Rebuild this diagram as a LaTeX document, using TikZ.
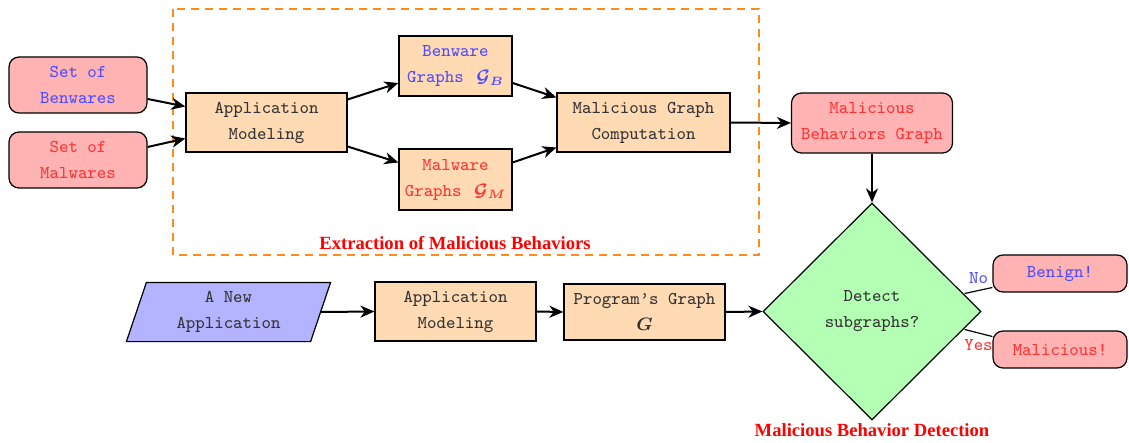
\documentclass[tikz,border=0pt]{standalone}
\usepackage{fontspec}
\usepackage{bm}
\newfontfamily\titlefont{Liberation Serif}
\usetikzlibrary{shapes.geometric,arrows.meta,backgrounds}
\definecolor{pinkfill}{HTML}{FFB3B3}
\definecolor{orfill}{HTML}{FFDAB3}
\definecolor{grfill}{HTML}{B3FFB3}
\definecolor{blfill}{HTML}{B3B3FF}
\definecolor{redtxt}{HTML}{FF3333}
\definecolor{bluetxt}{HTML}{4D4DFF}
\definecolor{dashor}{HTML}{FF8C1A}
\definecolor{txtgray}{HTML}{333333}
\begin{document}
\begin{tikzpicture}[x=0.5pt,y=-0.5pt,
  base/.style={draw=black, line width=0.6pt, align=center, inner sep=1pt,
    font=\ttfamily\fontsize{9}{13}\selectfont, text=txtgray},
  pinkbox/.style={base, fill=pinkfill, rounded corners=5pt},
  procbox/.style={base, fill=orfill},
  conn/.style={line width=1pt, -{Stealth[length=7pt,width=6pt,inset=2.2pt]}},
  plainline/.style={line width=0.6pt},
  title/.style={font=\titlefont\bfseries\fontsize{9.3}{11}\selectfont, text=red},
  answer/.style={font=\ttfamily\fontsize{9}{10}\selectfont, inner sep=1pt}]
\useasboundingbox (0,0) rectangle (1129,443);

% dashed frame
\draw[dashor, line width=1pt, dash pattern=on 4pt off 3pt] (173,9) rectangle (759,255);
\node[title] (extr) at (455,243) {Extraction of Malicious Behaviors};

% top row
\node[pinkbox, text=bluetxt, minimum width=69pt, minimum height=28pt] (benw) at (78,85) {Set of\\Benwares};
\node[pinkbox, text=redtxt, minimum width=69pt, minimum height=28pt] (malw) at (78,160) {Set of\\Malwares};
\node[procbox, minimum width=80.5pt, minimum height=29.5pt] (app1) at (266.5,122.5) {Application\\Modeling};
\node[procbox, text=bluetxt, minimum width=56.5pt, minimum height=30pt] (bgr) at (455.5,66) {Benware\\Graphs \,$\bm{\mathcal{G}_B}$};
\node[procbox, text=redtxt, minimum width=56.5pt, minimum height=30.5pt] (mgr) at (455.5,179.5) {Malware\\Graphs \,$\bm{\mathcal{G}_M}$};
\node[procbox, minimum width=86.5pt, minimum height=29.5pt] (mgc) at (643.5,122.5) {Malicious Graph\\Computation};
\node[pinkbox, text=redtxt, minimum width=80.5pt, minimum height=30pt] (mbg) at (872,123) {Malicious\\Behaviors Graph};

% decision
\node[base, diamond, fill=grfill, minimum width=109pt, minimum height=108.5pt, inner sep=0pt] (dec) at (872,311.5) {Detect\\subgraphs?};
\node[title] (detlab) at (872,430) {Malicious Behavior Detection};
\node[pinkbox, text=bluetxt, minimum width=67pt, minimum height=18.5pt] (benign) at (1060,273.5) {Benign!};
\node[pinkbox, text=redtxt, minimum width=67pt, minimum height=18.5pt] (malic) at (1060,349.5) {Malicious!};

% bottom row
\node[base, draw=none, minimum width=91.5pt, minimum height=29pt] (nap) at (228.5,312) {A New\\Application};
\begin{scope}[on background layer]
\draw[fill=blfill, line width=0.6pt] ([xshift=-5pt]nap.south west) -- ([xshift=-5pt]nap.south east)
  -- ([xshift=5pt]nap.north east) -- ([xshift=5pt]nap.north west) -- cycle;
\end{scope}
\node[procbox, minimum width=80.5pt, minimum height=29.5pt] (app2) at (455.5,311.5) {Application\\Modeling};
\node[procbox, minimum width=80.5pt, minimum height=28pt] (prog) at (644.5,312) {Program’s Graph\\$\bm{G}$};

% connectors
\draw[conn] ([yshift=-7pt]benw.east) -- ([yshift=8pt]app1.west);
\draw[conn] ([yshift=6.5pt]malw.east) -- ([yshift=-8pt]app1.west);
\draw[conn] ([yshift=11.5pt]app1.east) -- ([yshift=-8.5pt]bgr.west);
\draw[conn] ([yshift=-12pt]app1.east) -- ([yshift=8.5pt]mgr.west);
\draw[conn] ([yshift=-8.5pt]bgr.east) -- ([yshift=12.5pt]mgc.west);
\draw[conn] ([yshift=8.5pt]mgr.east) -- ([yshift=-12.5pt]mgc.west);
\draw[conn] (mgc.east) -- (mbg.west);
\draw[conn] (mbg.south) -- (dec.north);
\draw[conn] (nap.east) -- (app2.west);
\draw[conn] (app2.east) -- (prog.west);
\draw[conn] (prog.east) -- (dec.west);
\draw[plainline] ([shift={(-8.5pt,9pt)}]dec.east) -- node[answer, text=bluetxt, pos=0.5, above=2pt] (no) {No} ([yshift=-7pt]benign.west);
\draw[plainline] ([shift={(-8.5pt,-9pt)}]dec.east) -- node[answer, text=redtxt, pos=0.5, below=2pt] (yes) {Yes} ([yshift=6.5pt]malic.west);
\end{tikzpicture}
\end{document}
